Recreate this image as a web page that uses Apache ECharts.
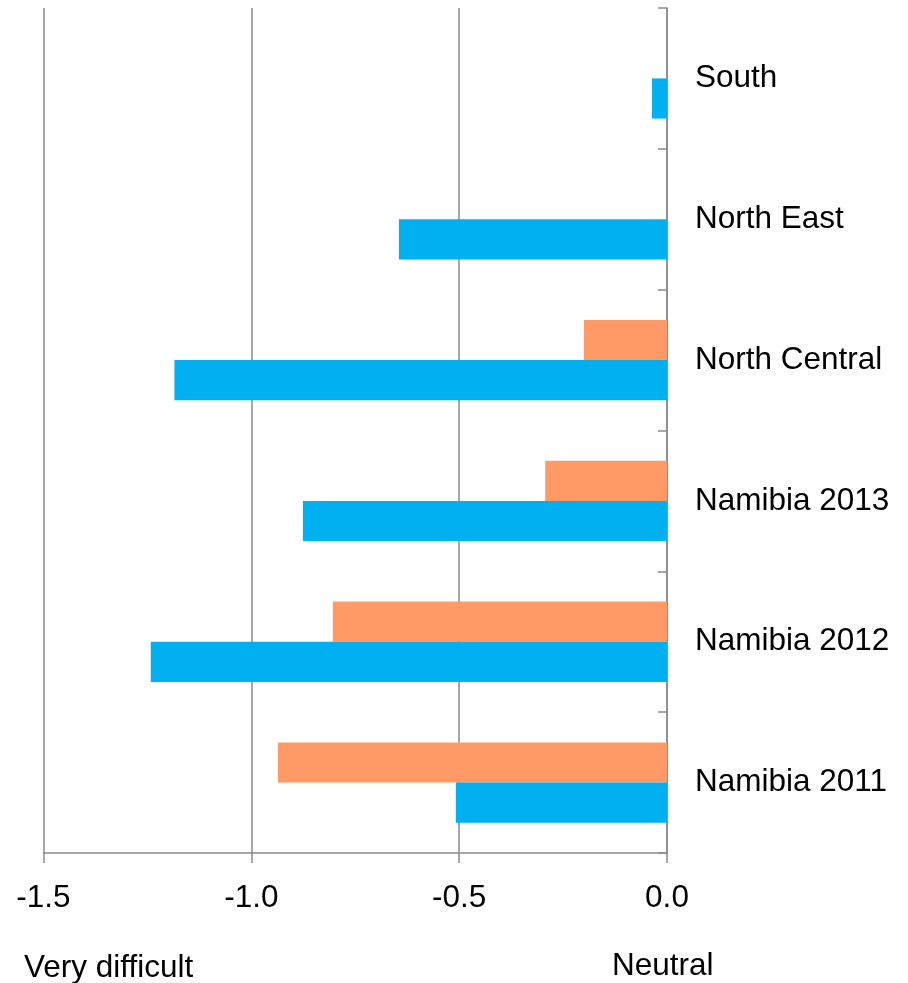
<!DOCTYPE html>
<html>
<head>
<meta charset="utf-8">
<script src="https://cdn.jsdelivr.net/npm/echarts@6/dist/echarts.min.js"></script>
<style>
  html, body { margin: 0; padding: 0; background: #fff; }
  #chart { width: 908px; height: 983px; }
</style>
</head>
<body>
<div id="chart"></div>
<script>
// categories bottom -> top
const categories = ["Namibia 2011", "Namibia 2012", "Namibia 2013", "North Central", "North East", "South"];
const orangeValues = [-0.936, -0.804, -0.293, -0.2, null, null];
const blueValues = [-0.508, -1.242, -0.876, -1.185, -0.645, -0.036];
const xTicks = { min: -1.5, max: 0, step: 0.5 };
const axisEnds = ["Very difficult", "Neutral"];

const font = "'Liberation Sans', Arial, sans-serif";
const grey = "#8a8a8a";
const fs = 31.5;

const chart = echarts.init(document.getElementById("chart"));
chart.setOption({
  animation: false,
  grid: { left: 43.5, right: 241, top: 8, bottom: 130, containLabel: false },
  xAxis: {
    type: "value",
    min: xTicks.min,
    max: xTicks.max,
    interval: xTicks.step,
    axisLine: { show: true, lineStyle: { color: grey, width: 1.5 } },
    axisTick: { show: true, length: 10, lineStyle: { color: grey, width: 1.5 } },
    splitLine: { show: true, lineStyle: { color: grey, width: 1.5 } },
    axisLabel: {
      margin: 29,
      color: "#000",
      fontSize: fs,
      fontFamily: font,
      formatter: v => (Math.abs(v) < 1e-9 ? 0 : v).toFixed(1)
    }
  },
  yAxis: {
    type: "category",
    position: "right",
    data: categories,
    axisLine: { show: true, onZero: false, lineStyle: { color: grey, width: 1.5 } },
    axisTick: { show: true, inside: true, length: 9, lineStyle: { color: grey, width: 1.5 } },
    splitLine: { show: false },
    axisLabel: { margin: 28, color: "#000", fontSize: fs, fontFamily: font, padding: [4, 0, 0, 0] }
  },
  series: [
    {
      type: "bar",
      data: orangeValues,
      itemStyle: { color: "#ff9966" },
      barGap: "0%",
      barCategoryGap: "43%"
    },
    {
      type: "bar",
      data: blueValues,
      itemStyle: { color: "#00b0f0" },
      barGap: "0%",
      barCategoryGap: "43%"
    }
  ],
  graphic: [
    {
      type: "text", left: 24, top: 952,
      style: { text: axisEnds[0], fontSize: fs, fontFamily: font, fill: "#000" }
    },
    {
      type: "text", left: 612, top: 950,
      style: { text: axisEnds[1], fontSize: fs, fontFamily: font, fill: "#000" }
    }
  ]
});
</script>
</body>
</html>
